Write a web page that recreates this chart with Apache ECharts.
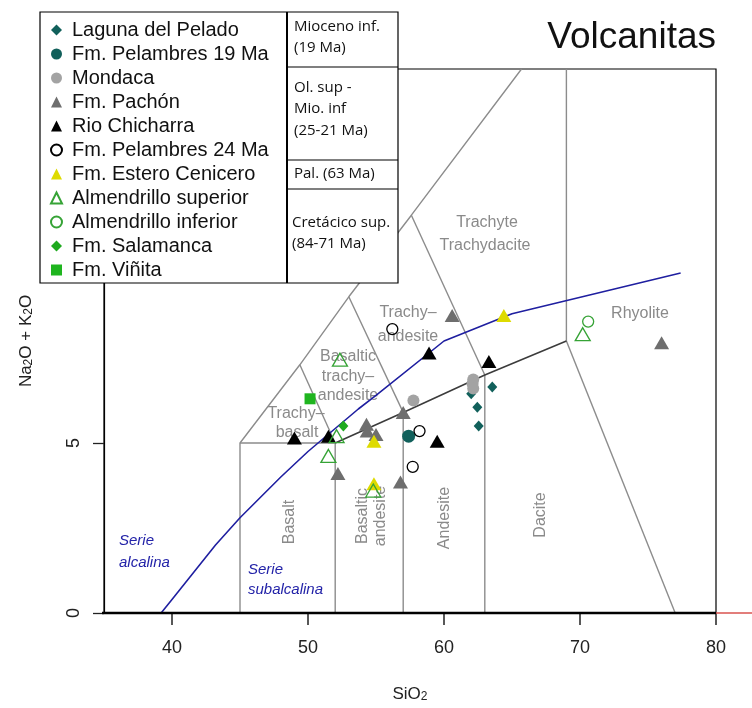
<!DOCTYPE html>
<html>
<head>
<meta charset="utf-8">
<script src="https://cdn.jsdelivr.net/npm/echarts@6/dist/echarts.min.js"></script>
<style>html,body{margin:0;background:#fff}#main{width:752px;height:708px}</style>
</head>
<body>
<div id="main"></div>
<script>
// muestras (SiO2, Na2O+K2O)
var laguna = [[62.0,6.45],[63.55,6.65],[62.45,6.05],[62.55,5.5]];
var pelambres19 = [[57.4,5.2]];
var mondaca = [[57.75,6.25],[62.15,6.87],[62.1,6.74],[62.15,6.6]];
var pachon = [[52.2,4.1],[54.3,5.55],[54.35,5.35],[55.0,5.25],[57.0,5.9],[56.8,3.85],[60.6,8.75],[76.0,7.95]];
var chicharra = [[49.0,5.15],[51.5,5.2],[58.9,7.65],[59.5,5.05],[63.3,7.4]];
var pelambres24 = [[56.2,8.35],[58.2,5.35],[57.7,4.3]];
var estero = [[54.85,5.05],[54.85,3.8],[64.4,8.75]];
var almSup = [[52.35,7.45],[52.1,5.2],[51.5,4.62],[54.8,3.6],[70.2,8.2]];
var almInf = [[70.6,8.57]];
var salamanca = [[52.6,5.5]];
var vinita = [[50.15,6.3]];

// limites TAS
var fieldLines = [
  [[45,0],[45,5],[52,5]],
  [[52,0],[52,5]],
  [[57,0],[57,5.9]],
  [[63,0],[63,7]],
  [[69,8],[69,16]],
  [[69,8],[77,0]],
  [[45,5],[49.4,7.3],[53,9.3],[57.6,11.7],[65.7,16]],
  [[49.4,7.3],[52,5]],
  [[53,9.3],[57,5.9]],
  [[57.6,11.7],[63,7]]
];
var subLine = [[52,5],[57,5.9],[63,7],[69,8]];
var irvineX = [39.2,40,43.2,45,48,50,53.7,55,60,65,77.4];
var irvineY = [0,0.4,2,2.8,4,4.75,6,6.4,8,8.8,10];
var xTicks = [40,50,60,70,80];
var yTicks = [0,5,10,15];

var FONT = 'Liberation Sans, Arial, sans-serif';
var chart = echarts.init(document.getElementById('main'));

function seg(pts, color, w) {
  return {type:'line', data:pts, symbol:'none', silent:true, z:1,
          lineStyle:{color:color, width:w}};
}
function pts(name, data, symbol, size, fill, stroke, bw) {
  return {type:'scatter', name:name, data:data, symbol:symbol, symbolSize:size, z:3,
          itemStyle:{color:fill, borderColor:stroke || fill, borderWidth:bw || 0, opacity:1}};
}

var series = [];
fieldLines.forEach(function(l){ series.push(seg(l, '#8c8c8c', 1.4)); });
series.push(seg(subLine, '#3c3c3c', 1.6));
series.push(seg(irvineX.map(function(x,i){return [x, irvineY[i]];}), '#1f1fa0', 1.6));
// eje x grueso
var axisBlack = seg([[34.1,0],[80,0]], '#000', 2.6); axisBlack.clip = false; axisBlack.z = 4;
series.push(axisBlack);

series.push(
  pts('Laguna del Pelado', laguna, 'diamond', [10,11], '#11605b'),
  pts('Fm. Pelambres 19 Ma', pelambres19, 'circle', 13, '#11605b'),
  pts('Mondaca', mondaca, 'circle', 12, '#a3a3a3'),
  pts('Fm. Pachón', pachon, 'triangle', [15,13], '#6e6e6e'),
  pts('Rio Chicharra', chicharra, 'triangle', [15,13], '#000'),
  pts('Fm. Pelambres 24 Ma', pelambres24, 'circle', 11, 'rgba(255,255,255,0)', '#000', 1.3),
  pts('Fm. Estero Cenicero', estero, 'triangle', [15,13], '#dedb00'),
  pts('Almendrillo superior', almSup, 'triangle', [15,13], 'rgba(255,255,255,0)', '#36a336', 1.3),
  pts('Almendrillo inferior', almInf, 'circle', 11, 'rgba(255,255,255,0)', '#36a336', 1.3),
  pts('Fm. Salamanca', salamanca, 'diamond', [10,11], '#1faa1f'),
  pts('Fm. Viñita', vinita, 'rect', 11, '#1fb51f')
);

var names = ['Laguna del Pelado','Fm. Pelambres 19 Ma','Mondaca','Fm. Pachón','Rio Chicharra',
  'Fm. Pelambres 24 Ma','Fm. Estero Cenicero','Almendrillo superior','Almendrillo inferior',
  'Fm. Salamanca','Fm. Viñita'];

var gray = '#8a8a8a';
function txt(s, x, y, opt) {
  opt = opt || {};
  return {type:'text', x:x, y:y, rotation:opt.rot || 0, z:opt.z || 1, silent:true,
    style:{text:s, fill:opt.color || gray, font:(opt.italic ? 'italic ' : '') + (opt.size || 16) + 'px ' + (opt.family || FONT),
      align:opt.align || 'center', verticalAlign:'middle'}};
}
function hline(x1, y1, x2, y2, w, color, z) {
  return {type:'line', z:z || 7, silent:true, shape:{x1:x1,y1:y1,x2:x2,y2:y2}, style:{stroke:color || '#000', lineWidth:w || 1.2}};
}

var ages = 'Open Sans, sans-serif';
var graphic = [
  // nombres de campos
  txt('Trachyte', 487, 223), txt('Trachydacite', 485, 246),
  txt('Rhyolite', 640, 314),
  txt('Trachy\u2013', 408, 313), txt('andesite', 408, 337),
  txt('Basaltic', 348, 357), txt('trachy\u2013', 348, 377), txt('andesite', 348, 396),
  txt('Trachy\u2013', 296, 414), txt('basalt', 297, 433),
  txt('Basalt', 290, 522, {rot:Math.PI/2}),
  txt('Basaltic', 363, 516, {rot:Math.PI/2}),
  txt('andesite', 381, 516, {rot:Math.PI/2}),
  txt('Andesite', 445, 518, {rot:Math.PI/2}),
  txt('Dacite', 541, 515, {rot:Math.PI/2}),
  txt('Serie', 119, 541, {color:'#2323a8', italic:true, align:'left', size:15}),
  txt('alcalina', 119, 563, {color:'#2323a8', italic:true, align:'left', size:15}),
  txt('Serie', 248, 570, {color:'#2323a8', italic:true, align:'left', size:15}),
  txt('subalcalina', 248, 590, {color:'#2323a8', italic:true, align:'left', size:15}),
  // caja de leyenda
  {type:'rect', z:6, silent:true, shape:{x:40, y:12, width:358, height:271}, style:{fill:'#fff', stroke:'#000', lineWidth:1.2}},
  hline(287, 12, 287, 283, 2),
  hline(287, 67, 398, 67), hline(287, 160, 398, 160), hline(287, 189, 398, 189),
  txt('Mioceno inf.', 294, 27, {align:'left', color:'#111', size:15, family:ages, z:8}),
  txt('(19 Ma)', 294, 48, {align:'left', color:'#111', size:15, family:ages, z:8}),
  txt('Ol. sup -', 294, 88, {align:'left', color:'#111', size:15, family:ages, z:8}),
  txt('Mio. inf', 294, 109, {align:'left', color:'#111', size:15, family:ages, z:8}),
  txt('(25-21 Ma)', 294, 131, {align:'left', color:'#111', size:15, family:ages, z:8}),
  txt('Pal. (63 Ma)', 294, 174, {align:'left', color:'#111', size:15, family:ages, z:8}),
  txt('Cretácico sup.', 292, 223, {align:'left', color:'#111', size:15, family:ages, z:8}),
  txt('(84-71 Ma)', 292, 244, {align:'left', color:'#111', size:15, family:ages, z:8})
];

var subRich = {
  a:{fontSize:17, fontFamily:FONT, color:'#222', lineHeight:18},
  b:{fontSize:12, fontFamily:FONT, color:'#222', lineHeight:8, verticalAlign:'bottom'}
};

chart.setOption({
  animation:false,
  title:{text:'Volcanitas', right:36, top:19, padding:0,
    textStyle:{fontSize:37, fontWeight:'normal', fontFamily:FONT, color:'#111'}},
  grid:{left:104, right:36, top:69, bottom:95, show:true, borderColor:'#000', borderWidth:1.2},
  legend:{data:names, orient:'vertical', left:45, top:15, itemWidth:11, itemHeight:11, itemGap:4,
    selectedMode:false, z:10,
    textStyle:{fontSize:20, fontFamily:FONT, color:'#111', lineHeight:20, padding:[0,0,0,5]}},
  xAxis:{type:'value', min:35, max:80,
    axisLine:{show:false},
    axisTick:{show:true, length:12, customValues:xTicks, lineStyle:{color:'#222', width:1.5}},
    axisLabel:{customValues:xTicks, fontSize:18, fontFamily:FONT, color:'#222', margin:26},
    splitLine:{show:false},
    name:'{a|SiO}{b|2}', nameLocation:'middle', nameGap:72, nameTextStyle:{rich:subRich}},
  yAxis:{type:'value', min:0, max:16,
    axisLine:{show:true, lineStyle:{color:'#000', width:1.2}},
    axisTick:{show:true, length:11, customValues:yTicks, lineStyle:{color:'#222', width:1.3}},
    axisLabel:{customValues:yTicks, rotate:90, fontSize:18, fontFamily:FONT, color:'#222', margin:21},
    splitLine:{show:false},
    name:'{a|Na}{b|2}{a|O + K}{b|2}{a|O}', nameLocation:'middle', nameGap:69, nameTextStyle:{rich:subRich}},
  series:series,
  graphic:graphic
});

// tramo rojo a la derecha del eje, desde x=80 hasta el borde
var p0 = chart.convertToPixel({gridIndex:0}, [80, 0]);
graphic.push(hline(p0[0], p0[1], 752, p0[1], 1.6, '#d9534f', 4));
chart.setOption({graphic:graphic});
</script>
</body>
</html>
